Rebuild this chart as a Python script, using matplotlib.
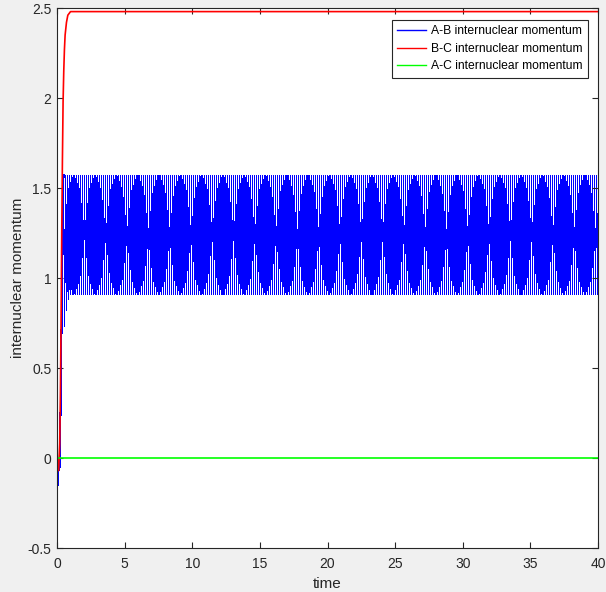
import numpy as np
import matplotlib
matplotlib.use("Agg")
import matplotlib.pyplot as plt
from matplotlib.path import Path
from matplotlib.patches import PathPatch

# ---- data ----
# B-C internuclear momentum (red): fast rise to a plateau
bc_t = [0.0, 0.05, 0.12, 0.2, 0.25, 0.3, 0.35, 0.4, 0.45, 0.5, 0.55, 0.6, 0.7, 0.8, 0.9, 1.0, 1.2, 40.0]
bc_y = [0.05, -0.06, -0.07, 0.08, 0.35, 0.75, 1.25, 1.65, 1.98, 2.15, 2.27, 2.35, 2.42, 2.46, 2.47, 2.48, 2.48, 2.48]

# A-B internuclear momentum (blue): start-up transient, then a fast steady oscillation
ab_start_t = [0.0, 0.05, 0.1, 0.2, 0.28, 0.34, 0.4]
ab_start_y = [-0.1, -0.15, -0.07, -0.05, 0.35, 0.75, 1.2]
ab_first_troughs = [0.73, 0.82, 0.88]
ab_peak = 1.57
ab_trough = 0.91
ab_half_period = 0.07758     # time between successive extremes
ab_osc_start = 0.4818
ab_osc_end = 40.0

# A-C internuclear momentum (green): constant zero
ac_t = [0.0, 40.0]
ac_y = [0.0, 0.0]

x_ticks = [0, 5, 10, 15, 20, 25, 30, 35, 40]
y_ticks = [-0.5, 0, 0.5, 1, 1.5, 2, 2.5]
y_tick_labels = ["-0.5", "0", "0.5", "1", "1.5", "2", "2.5"]

labels = ["A-B internuclear momentum", "B-C internuclear momentum", "A-C internuclear momentum"]
colors = ["#0000ff", "#ff0000", "#00ff00"]

# ---- extremes of the blue oscillation ----
n_ext = int((ab_osc_end - ab_osc_start) / ab_half_period) + 1
ext_t = ab_osc_start + ab_half_period * np.arange(n_ext)
ext_y = np.tile([ab_peak, ab_trough], n_ext // 2 + 1)[:n_ext].astype(float)
for i, v in enumerate(ab_first_troughs):
    ext_y[2 * i + 1] = v

# ---- figure ----
fig = plt.figure(figsize=(6.06, 5.92), dpi=100, facecolor="#f0f0f0")
ax = fig.add_axes([57 / 606, 1 - 548 / 592, 541 / 606, 540 / 592])
ax.set_facecolor("white")

# blue: start-up transient as a polyline, then the oscillation as a smooth
# curve through its extremes (cubic Bezier with flat tangents at each extreme)
ax.plot(list(ab_start_t) + [ext_t[0]], list(ab_start_y) + [ext_y[0]],
        color=colors[0], lw=0.75, antialiased=False)
verts = [(ext_t[0], ext_y[0])]
codes = [Path.MOVETO]
c = 0.3642 * ab_half_period
for k in range(1, n_ext):
    t0, y0 = ext_t[k - 1], ext_y[k - 1]
    t1, y1 = ext_t[k], ext_y[k]
    verts += [(t0 + c, y0), (t1 - c, y1), (t1, y1)]
    codes += [Path.CURVE4, Path.CURVE4, Path.CURVE4]
blue_patch = PathPatch(Path(verts, codes), facecolor="none", edgecolor=colors[0],
                       lw=0.08, antialiased=False)
ax.add_patch(blue_patch)
ax.plot([], [], color=colors[0], label=labels[0])

ax.plot(bc_t, bc_y, color=colors[1], lw=1.2, label=labels[1])
ax.plot(ac_t, ac_y, color=colors[2], lw=1.2, label=labels[2])

ax.set_xlim(0, 40)
ax.set_ylim(-0.5, 2.5)
ax.set_xticks(x_ticks)
ax.set_yticks(y_ticks)
ax.set_yticklabels(y_tick_labels)

fam = ["Liberation Sans", "DejaVu Sans"]
dark = "#262626"
for s in ax.spines.values():
    s.set_color(dark)
    s.set_linewidth(0.8)
    s.set_zorder(5)
ax.tick_params(direction="in", length=4.5, width=0.8, colors=dark, top=True, right=True,
               labelsize=10)
ax.tick_params(axis="x", pad=6.2)
ax.tick_params(axis="y", pad=4)
for lab in ax.get_xticklabels() + ax.get_yticklabels():
    lab.set_fontfamily(fam)
ax.set_xlabel("time", fontsize=11, color=dark, family=fam, labelpad=4.5)
ax.set_ylabel("internuclear momentum", fontsize=11, color=dark, family=fam, labelpad=1.5)

leg = ax.legend(loc="upper right", bbox_to_anchor=(588 / 606, 1 - 20 / 592),
                bbox_transform=fig.transFigure, prop={"family": fam, "size": 8.7},
                frameon=True, fancybox=False, framealpha=1, edgecolor=dark,
                handlelength=2.35, handletextpad=0.45, borderpad=0.45, labelspacing=0.45,
                borderaxespad=0)
leg.get_frame().set_linewidth(0.8)
for h in leg.get_lines():
    h.set_linewidth(1.0)

fig.savefig("out.png", dpi=100, facecolor=fig.get_facecolor())
